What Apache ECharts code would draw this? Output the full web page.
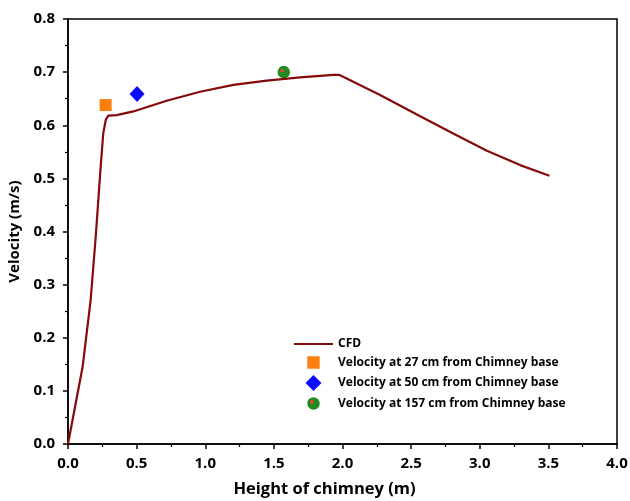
<!DOCTYPE html>
<html>
<head>
<meta charset="utf-8">
<script src="https://cdn.jsdelivr.net/npm/echarts@6/dist/echarts.min.js"></script>
<style>html,body{margin:0;padding:0;background:#fff}#c{width:630px;height:501px}</style>
</head>
<body>
<div id="c"></div>
<script>
const cfdX = [0, 0.107, 0.165, 0.204, 0.238, 0.257, 0.275, 0.294, 0.355, 0.476, 0.719, 0.962, 1.205, 1.448, 1.691, 1.934, 1.975, 2.274, 2.566, 2.81, 3.052, 3.294, 3.508];
const cfdY = [0, 0.146, 0.271, 0.397, 0.522, 0.585, 0.610, 0.618, 0.619, 0.626, 0.646, 0.663, 0.676, 0.684, 0.690, 0.695, 0.695, 0.657, 0.617, 0.584, 0.552, 0.525, 0.505];
const pt27 = [0.274, 0.638];
const pt50 = [0.503, 0.659];
const pt157 = [1.572, 0.700];
const seriesNames = ['CFD', 'Velocity at 27 cm from Chimney base', 'Velocity at 50 cm from Chimney base', 'Velocity at 157 cm from Chimney base'];

const circleSvg = 'image://data:image/svg+xml;charset=utf-8,' + encodeURIComponent(
  '<svg xmlns="http://www.w3.org/2000/svg" width="26" height="26" viewBox="0 0 26 26">' +
  '<circle cx="13" cy="13" r="12.5" fill="#1e8c1e"/>' +
  '<circle cx="10" cy="10" r="4" fill="#d9483b"/></svg>');
const circleLegendSvg = 'image://data:image/svg+xml;charset=utf-8,' + encodeURIComponent(
  '<svg xmlns="http://www.w3.org/2000/svg" width="32" height="32" viewBox="0 0 32 32">' +
  '<circle cx="16" cy="16" r="12.5" fill="#1e8c1e"/>' +
  '<circle cx="13" cy="13" r="4" fill="#d9483b"/></svg>');
const rectPath = 'path://M0,0L0.01,0L0,0.01Z M16,16L15.99,16L16,15.99Z M1.8,1.8H14.2V14.2H1.8Z';
const diamondPath = 'path://M8,0L16,8L8,16L0,8Z';
const linePath = 'path://M0,0H39V2.2H0Z';

const font = '"Open Sans", "Noto Sans", sans-serif';
const chart = echarts.init(document.getElementById('c'), null, {renderer: 'canvas'});
chart.setOption({
  animation: false,
  backgroundColor: '#fff',
  grid: {left: 68, right: 13, top: 19, bottom: 57, outerBoundsMode: 'none', containLabel: false, show: true, borderColor: '#000', borderWidth: 1.5, backgroundColor: 'transparent'},
  xAxis: {
    type: 'value', min: 0, max: 4, interval: 0.5,
    name: 'Height of chimney (m)', nameLocation: 'middle', nameGap: 37,
    nameTextStyle: {fontFamily: font, fontWeight: 'bold', fontSize: 16.5, color: '#000', padding: [0, 36, 0, 0]},
    axisLine: {show: true, onZero: false, lineStyle: {color: '#000', width: 1.5}},
    axisTick: {show: true, length: 5, lineStyle: {color: '#000', width: 1.5}},
    minorTick: {show: true, splitNumber: 2, length: 3, lineStyle: {color: '#000', width: 1.2}},
    splitLine: {show: false},
    axisLabel: {fontFamily: font, fontWeight: 'bold', fontSize: 15, color: '#000', margin: 12, formatter: v => v.toFixed(1)}
  },
  yAxis: {
    type: 'value', min: 0, max: 0.8, interval: 0.1,
    name: 'Velocity (m/s)', nameLocation: 'middle', nameGap: 45,
    nameTextStyle: {fontFamily: font, fontWeight: 'bold', fontSize: 15, color: '#000'},
    axisLine: {show: true, onZero: false, lineStyle: {color: '#000', width: 1.5}},
    axisTick: {show: true, length: 5, lineStyle: {color: '#000', width: 1.5}},
    minorTick: {show: true, splitNumber: 2, length: 3, lineStyle: {color: '#000', width: 1.2}},
    splitLine: {show: false},
    axisLabel: {fontFamily: font, fontWeight: 'bold', fontSize: 15, color: '#000', margin: 13, formatter: v => v.toFixed(1)}
  },
  legend: {
    orient: 'vertical', left: 289, top: 333, itemWidth: 39, itemHeight: 16, itemGap: 4.5,
    symbolKeepAspect: true,
    textStyle: {fontFamily: font, fontWeight: 'bold', fontSize: 12, color: '#000'},
    data: [
      {name: seriesNames[0], icon: linePath},
      {name: seriesNames[1], icon: rectPath},
      {name: seriesNames[2], icon: diamondPath},
      {name: seriesNames[3], icon: circleLegendSvg}
    ]
  },
  series: [
    {name: seriesNames[0], type: 'line', data: cfdX.map((x, i) => [x, cfdY[i]]), showSymbol: false, symbol: 'none',
     lineStyle: {color: '#850a0a', width: 2.2}, itemStyle: {color: '#850a0a'}},
    {name: seriesNames[1], type: 'scatter', data: [pt27], symbol: 'rect', symbolSize: 12, itemStyle: {color: '#ff7f0e', opacity: 1}},
    {name: seriesNames[2], type: 'scatter', data: [pt50], symbol: 'diamond', symbolSize: [15, 16], itemStyle: {color: '#0a0aff', opacity: 1}},
    {name: seriesNames[3], type: 'scatter', data: [pt157], symbol: circleSvg, symbolSize: 13, symbolKeepAspect: true, itemStyle: {color: '#1e8c1e', opacity: 1}}
  ]
});
</script>
</body>
</html>
